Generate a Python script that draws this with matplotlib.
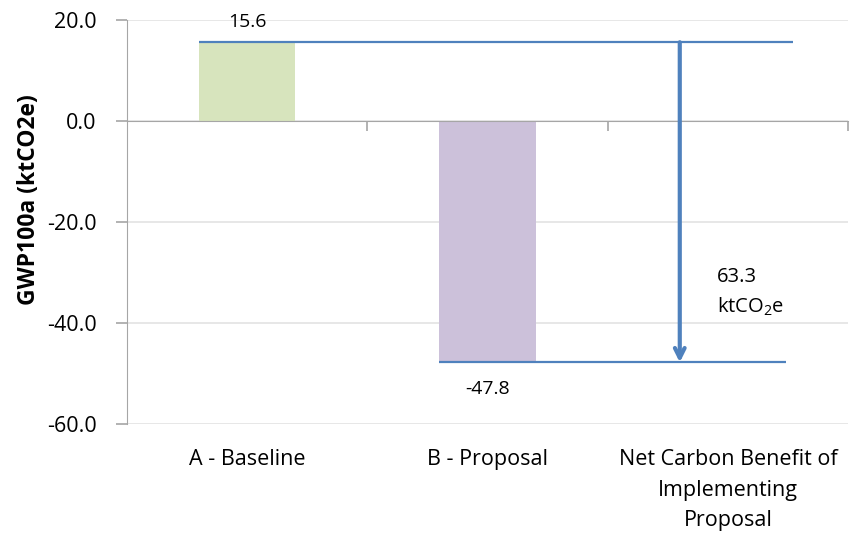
import numpy as np
import matplotlib
matplotlib.use("Agg")
import matplotlib.pyplot as plt

plt.rcParams['font.family'] = ['Open Sans', 'DejaVu Sans']
plt.rcParams['mathtext.fontset'] = 'custom'
plt.rcParams['mathtext.rm'] = 'Open Sans'
plt.rcParams['mathtext.it'] = 'Open Sans'

# data
categories = ['A - Baseline', 'B - Proposal', 'Net Carbon Benefit of\nImplementing\nProposal']
baseline = 15.6
proposal = -47.8
net_benefit_label = '63.3\nktCO$_2$e'
yticks = [-60, -40, -20, 0, 20]

bar_colors = ['#D7E4BD', '#CCC1DA']
line_color = '#4F81BD'
axis_gray = '#A6A6A6'
grid_gray = '#E3E3E3'

fig = plt.figure(figsize=(8.51, 5.39), dpi=100)
ax = fig.add_axes([127 / 851, 1 - 424 / 539, (848 - 127) / 851, (424 - 20) / 539])

x = np.arange(len(categories))
ax.bar(x[:2], [baseline, proposal], width=0.4, color=bar_colors, zorder=2)

# reference lines at the two totals and the arrow between them
ax.hlines(baseline, x[0] - 0.2, 2.27, color=line_color, lw=1.6, zorder=3)
ax.hlines(proposal, x[1] - 0.2, 2.24, color=line_color, lw=1.6, zorder=3)
ax.annotate('', xy=(1.8, proposal), xytext=(1.8, baseline),
            arrowprops=dict(arrowstyle='->,head_length=0.7,head_width=0.35',
                            color=line_color, lw=3, shrinkA=0, shrinkB=0),
            zorder=4)

ax.text(x[0], baseline + 4.0, f'{baseline:.1f}', ha='center', va='center', fontsize=14)
ax.text(x[1], proposal - 5.2, f'{proposal:.1f}', ha='center', va='center', fontsize=14)
ax.text(1.955, -34, net_benefit_label, ha='left', va='center', fontsize=14.5,
        linespacing=1.5)

ax.set_xlim(-0.5, 2.5)
ax.set_ylim(-60, 20)
ax.set_yticks(yticks)
ax.set_yticklabels([f'{v:.1f}' for v in yticks], fontsize=15.5)
ax.yaxis.grid(True, color=grid_gray, lw=1.2, zorder=0)
ax.set_axisbelow(True)

# category axis sits at zero, tick marks between categories
ax.spines['bottom'].set_position(('data', 0))
ax.spines['bottom'].set_color(axis_gray)
ax.spines['left'].set_color(axis_gray)
ax.spines['top'].set_visible(False)
ax.spines['right'].set_visible(False)
ax.set_xticks([0.5, 1.5, 2.5])
ax.set_xticklabels([])
ax.tick_params(axis='x', direction='out', length=7, color=axis_gray, width=1.2)
ax.tick_params(axis='y', direction='out', length=8, color=axis_gray, width=1.2, pad=14)

for xi, label in zip(x, categories):
    ax.text(xi, -0.063, label, transform=ax.get_xaxis_transform(), ha='center', va='top',
            fontsize=15.5, linespacing=1.58)

fig.text(29 / 851, 1 - 200 / 539, 'GWP100a (ktCO2e)', rotation=90, ha='center', va='center',
         fontsize=16.5, fontweight='bold')

fig.savefig('out.png', dpi=100)
